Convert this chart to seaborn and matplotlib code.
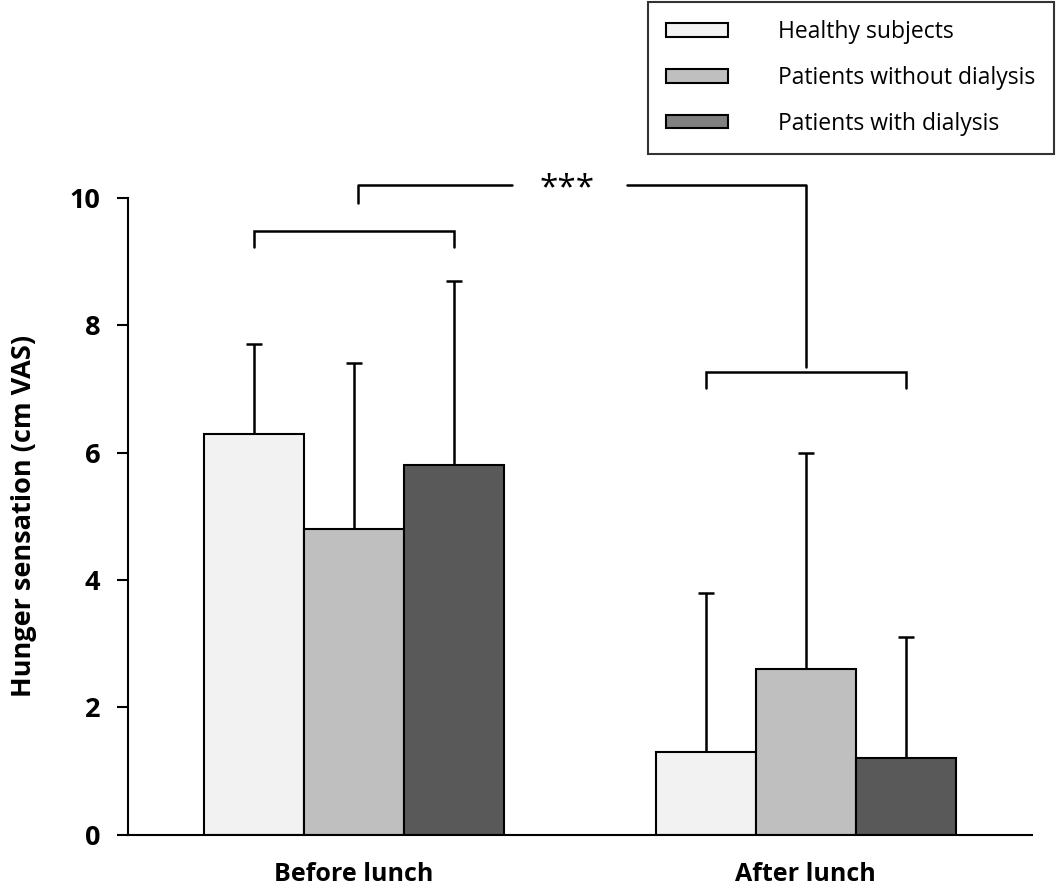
import numpy as np
import pandas as pd
import matplotlib
matplotlib.use("Agg")
import matplotlib.pyplot as plt
import seaborn as sns

# ---- data ----
times = ["Before lunch", "After lunch"]
groups = ["Healthy subjects", "Patients without dialysis", "Patients with dialysis"]
healthy_mean = [6.3, 1.3]
nodial_mean = [4.8, 2.6]
dial_mean = [5.8, 1.2]
healthy_sd = [1.4, 2.5]
nodial_sd = [2.6, 3.4]
dial_sd = [2.9, 1.9]
colors = ["#f2f2f2", "#bfbfbf", "#595959"]
legend_colors = ["#f2f2f2", "#bfbfbf", "#808080"]

means = [healthy_mean, nodial_mean, dial_mean]
sds = [healthy_sd, nodial_sd, dial_sd]
rows = []
for g, m, s in zip(groups, means, sds):
    for t, mv, sv in zip(times, m, s):
        rows.append({"time": t, "group": g, "value": mv, "sd": sv})
df = pd.DataFrame(rows)

sns.set_style("white")
plt.rcParams["font.family"] = ["Open Sans", "DejaVu Sans"]
plt.rcParams["text.color"] = "black"
plt.rcParams["axes.labelcolor"] = "black"
plt.rcParams["xtick.color"] = "black"
plt.rcParams["ytick.color"] = "black"

fig = plt.figure(figsize=(10.58, 8.91), dpi=100)
ax = fig.add_axes([0.121, 0.063, 0.854, 0.715])

sns.barplot(data=df, x="time", y="value", hue="group", order=times, hue_order=groups,
            palette=colors, width=0.664, edgecolor="black", linewidth=1.5,
            errorbar=None, ax=ax, legend=True, saturation=1)

# error bars (upper only)
for gi, g in enumerate(groups):
    for ti, t in enumerate(times):
        p = ax.containers[gi][ti]
        xc = p.get_x() + p.get_width() / 2
        eb = ax.errorbar(xc, p.get_height(), yerr=[[0], [sds[gi][ti]]], fmt="none",
                         ecolor="black", elinewidth=1.8, capsize=6, capthick=1.8, zorder=1)
        caps = eb[1]
        if len(caps) > 1:
            caps[0].set_visible(False)

ax.set_xlim(-0.5, 1.5)
ax.set_ylim(0, 10)
ax.set_yticks([0, 2, 4, 6, 8, 10])
ax.set_xlabel("")
ax.set_ylabel("Hunger sensation (cm VAS)", fontsize=19.5, fontweight="bold", labelpad=23)
ax.tick_params(axis="y", which="both", left=True, length=8, width=1.5, labelsize=19.5, pad=12)
ax.tick_params(axis="x", bottom=False, labelsize=18, pad=16)
for lab in ax.get_xticklabels() + ax.get_yticklabels():
    lab.set_fontweight("bold")
for s in ["top", "right"]:
    ax.spines[s].set_visible(False)
for s in ["left", "bottom"]:
    ax.spines[s].set_linewidth(1.5)
    ax.spines[s].set_color("black")

# significance brackets
w = ax.containers[0][0].get_width()
def bracket(x0, x1, ytop, yl, yr):
    ax.plot([x0, x0, x1, x1], [yl, ytop, ytop, yr], color="black", lw=1.8,
            clip_on=False, solid_joinstyle="miter")

bracket(-w, w, 9.48, 9.22, 9.22)
bracket(1 - w, 1 + w, 7.26, 7.01, 7.01)
# big bracket with gap for stars
ax.plot([0.01, 0.01, 0.35], [9.92, 10.2, 10.2], color="black", lw=1.8, clip_on=False)
ax.plot([0.605, 1.0, 1.0], [10.2, 10.2, 7.34], color="black", lw=1.8, clip_on=False)
ax.text(0.473, 10.14, "***", ha="center", va="center", fontsize=24, clip_on=False)

# legend
handles, labels = ax.get_legend_handles_labels()
for h, c in zip(handles, legend_colors):
    h.set_facecolor(c)
    h.set_edgecolor("black")
    h.set_linewidth(1.5)
leg = ax.legend(handles, labels, loc="upper right", bbox_to_anchor=(0.996, 0.998),
                bbox_transform=fig.transFigure, frameon=True, fancybox=False,
                fontsize=16.5, handlelength=2.7, handleheight=0.55, handletextpad=2.2,
                labelspacing=0.95, borderpad=0.8, borderaxespad=0)
leg.get_frame().set_edgecolor("black")
leg.get_frame().set_linewidth(1.5)

fig.savefig("out.png", dpi=100)
